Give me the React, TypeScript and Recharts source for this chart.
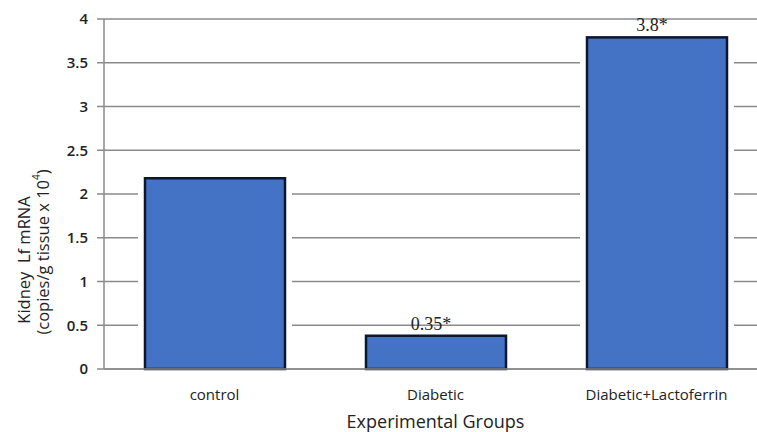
import React from 'react';
import { BarChart, Bar, XAxis, YAxis, CartesianGrid, LabelList } from 'recharts';

const GROUPS = ['control', 'Diabetic', 'Diabetic+Lactoferrin'];
const LF_MRNA = [2.18, 0.38, 3.79];
const BAR_LABELS = ['', '0.35*', '3.8*'];
const Y_TICKS = [0, 0.5, 1, 1.5, 2, 2.5, 3, 3.5, 4];

const data = GROUPS.map((group, i) => ({ group, value: LF_MRNA[i], note: BAR_LABELS[i] }));

const FONT = 'Open Sans, Lato, sans-serif';
const SERIF = '"Liberation Serif", "DejaVu Serif", serif';

// bar with a white halo, so grid lines stop short of it like in the source
const HaloBar = (props: any) => {
  const { x, y, width, height } = props;
  return (
    <g>
      <rect x={x - 7} y={y - 4} width={width + 14} height={height + 3} fill="#fff" />
      <rect x={x} y={y} width={width} height={height} fill="#4472C4" stroke="#0b1630" strokeWidth={2.5} />
    </g>
  );
};

const renderNote = (props: any) => {
  const { x, y, width, value } = props;
  if (!value) return null;
  return (
    <text x={x + width / 2 - 5} y={y - 6} textAnchor="middle" style={{ fontFamily: SERIF, fontSize: 18 }} fill="#222">
      {value}
    </text>
  );
};

const YTitle = () => (
  <g style={{ fontFamily: FONT, fontSize: 16.5 }} fill="#222">
    <text x={23} y={260} transform="rotate(-90 23 260)" textAnchor="middle" dominantBaseline="central" xmlSpace="preserve" style={{ whiteSpace: 'pre' }}>
      {'Kidney  Lf mRNA'}
    </text>
    <text x={42} y={252} transform="rotate(-90 42 252)" textAnchor="middle" dominantBaseline="central">
      (copies/g tissue x 10<tspan fontSize={10} dy={-6}>4</tspan><tspan dy={6}>)</tspan>
    </text>
  </g>
);

export default function App() {
  return (
    <div style={{ position: 'absolute', left: 0, top: 0, width: 757, height: 432, overflow: 'hidden', background: '#fff' }}>
      <BarChart width={770} height={432} data={data} margin={{ top: 19, right: 3, bottom: 0, left: 0 }}>
        <CartesianGrid vertical={false} stroke="#8a8a8a" strokeWidth={1.5} />
        <XAxis
          dataKey="group"
          height={63}
          tickLine={false}
          axisLine={{ stroke: '#8a8a8a', strokeWidth: 1.5 }}
          tickMargin={14}
          tick={{ fontFamily: FONT, fontSize: 15, fill: '#222' }}
          interval={0}
          label={{ value: 'Experimental Groups', position: 'insideBottom', offset: 4, fontFamily: FONT, fontSize: 18, fill: '#222' } as any}
        />
        <YAxis
          width={104}
          domain={[0, 4]}
          ticks={Y_TICKS}
          tickSize={7}
          tickMargin={9}
          tickLine={{ stroke: '#8a8a8a', strokeWidth: 1.5 }}
          axisLine={{ stroke: '#8a8a8a', strokeWidth: 1.5 }}
          tick={{ fontFamily: FONT, fontSize: 15, fontWeight: 600, fill: '#222' }}
          label={<YTitle />}
        />
        <Bar dataKey="value" barSize={140} shape={<HaloBar />} isAnimationActive={false}>
          <LabelList dataKey="note" content={renderNote} />
        </Bar>
      </BarChart>
    </div>
  );
}
